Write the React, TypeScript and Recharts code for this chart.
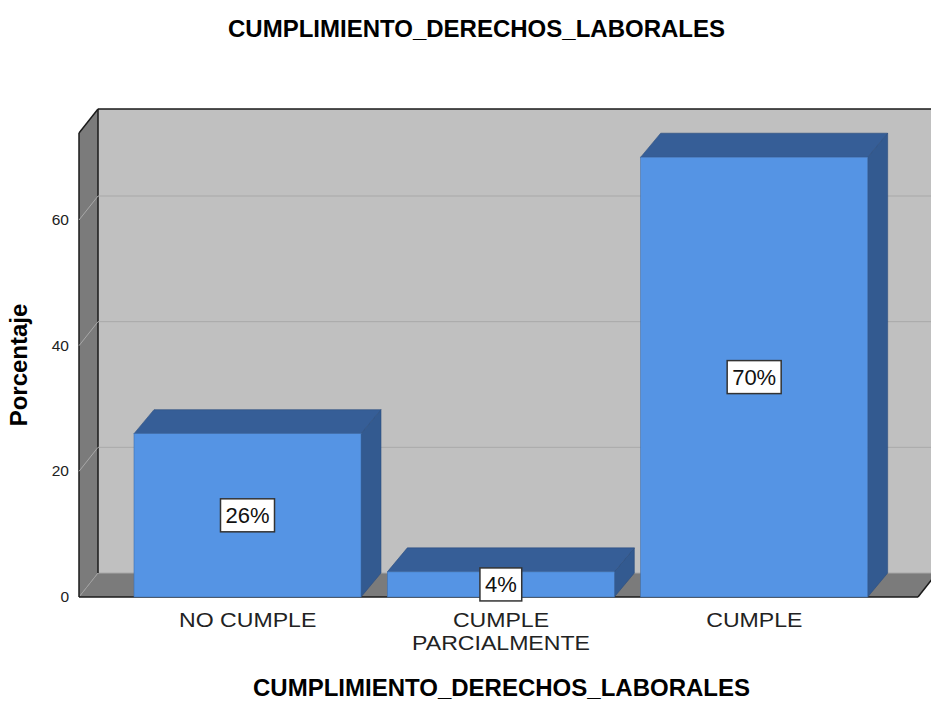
import React from 'react';
import { BarChart, Bar, XAxis, YAxis, ReferenceArea, LabelList } from 'recharts';

const categories = ['NO CUMPLE', 'CUMPLE PARCIALMENTE', 'CUMPLE'];
const percentages = [26, 4, 70];
const yTicks = [0, 20, 40, 60];
const gridValues = [20, 40, 60];
const chartTitle = 'CUMPLIMIENTO_DERECHOS_LABORALES';
const xTitle = 'CUMPLIMIENTO_DERECHOS_LABORALES';
const yTitle = 'Porcentaje';

const data = categories.map((c, i) => ({ name: c, value: percentages[i] }));

const W = 931;
const H = 702;
const PLOT_LEFT = 79;
const PLOT_RIGHT = 918;
const PLOT_TOP = 133;
const PLOT_BOTTOM = 597;
const DX = 19;
const DY = -24;
const BAR_DX = 20;
const BAR_DY = -24;
const Y_MAX = 73.85;
const FONT = '"Liberation Sans", Arial, Helvetica, sans-serif';

const WallShape = (p: any) => {
  const top = p.y;
  const bottom = p.y + p.height;
  const bx0 = PLOT_LEFT + DX;
  const bx1 = PLOT_RIGHT + DX;
  const by0 = top + DY;
  const by1 = bottom + DY;
  return (
    <g>
      <polygon points={`${bx0},${by0} ${bx1 + 20},${by0} ${bx1 + 20},${by1} ${bx0},${by1}`} fill="#C0C0C0" />
      <polygon points={`${PLOT_LEFT},${top} ${bx0},${by0} ${bx0},${by1} ${PLOT_LEFT},${bottom}`} fill="#7B7B7B" />
      <polygon points={`${PLOT_LEFT},${bottom} ${bx0},${by1} ${bx1},${by1} ${PLOT_RIGHT},${bottom}`} fill="#7B7B7B" />
      <line x1={bx0} y1={by1} x2={bx1 + 20} y2={by1} stroke="#A8A8A8" strokeWidth={1} />
      <line x1={PLOT_LEFT} y1={bottom} x2={bx0} y2={by1} stroke="#A0A0A0" strokeWidth={1} />
      <line x1={PLOT_LEFT} y1={top} x2={PLOT_LEFT} y2={bottom} stroke="#1A1A1A" strokeWidth={1.5} />
      <line x1={bx0} y1={by0} x2={bx0} y2={by1} stroke="#1A1A1A" strokeWidth={1.5} />
      <line x1={PLOT_LEFT} y1={top} x2={bx0} y2={by0} stroke="#1A1A1A" strokeWidth={1.5} />
      <line x1={bx0} y1={by0} x2={bx1 + 20} y2={by0} stroke="#1A1A1A" strokeWidth={1.5} />
      <line x1={PLOT_LEFT} y1={bottom} x2={PLOT_RIGHT} y2={bottom} stroke="#1A1A1A" strokeWidth={1.5} />
      <line x1={PLOT_RIGHT} y1={bottom} x2={bx1} y2={by1} stroke="#1A1A1A" strokeWidth={1.5} />
    </g>
  );
};

const GridShape = (p: any) => {
  const y = p.y;
  return (
    <g>
      <line x1={PLOT_LEFT + DX} y1={y + DY} x2={PLOT_RIGHT + DX + 20} y2={y + DY} stroke="#A9A9A9" strokeWidth={1} />
      <line x1={PLOT_LEFT} y1={y} x2={PLOT_LEFT + DX} y2={y + DY} stroke="#A8A8A8" strokeWidth={1} />
    </g>
  );
};

const Bar3D = (p: any) => {
  const { x, y, width: w, height: h } = p;
  if (w == null || h == null) return null;
  return (
    <g>
      <polygon
        points={`${x + w},${y} ${x + w + BAR_DX},${y + BAR_DY} ${x + w + BAR_DX},${y + h + BAR_DY} ${x + w},${y + h}`}
        fill="#335A90"
        stroke="#2C4E7E"
        strokeWidth={0.6}
      />
      <polygon
        points={`${x},${y} ${x + BAR_DX},${y + BAR_DY} ${x + w + BAR_DX},${y + BAR_DY} ${x + w},${y}`}
        fill="#365E97"
        stroke="#2C4E7E"
        strokeWidth={0.6}
      />
      <rect x={x} y={y} width={w} height={h} fill="#5594E4" stroke="#3F6FAE" strokeWidth={0.6} />
    </g>
  );
};

const ValueLabel = (p: any) => {
  const vb = p.viewBox && p.viewBox.width != null ? p.viewBox : p;
  const { x, y, width, height } = vb;
  if (x == null || p.value == null) return null;
  const txt = `${p.value}%`;
  const digits = String(p.value).length;
  const bw = digits * 12.2 + 19.6 + 10;
  const cx = x + width / 2;
  const cy = y + height / 2;
  return (
    <g>
      <rect x={cx - bw / 2} y={cy - 16.5} width={bw} height={33} fill="#FFFFFF" stroke="#333333" strokeWidth={1.5} />
      <text x={cx} y={cy + 8} textAnchor="middle" fontSize={22} fontFamily={FONT} fill="#111111">
        {txt}
      </text>
    </g>
  );
};

const YTick = (p: any) => (
  <text x={PLOT_LEFT - 10} y={p.y + 5} textAnchor="end" fontSize={15.5} fontFamily={FONT} fill="#222222">
    {p.payload.value}
  </text>
);

const wrapWords = (s: string, maxChars: number) => {
  const words = s.split(' ');
  const lines: string[] = [];
  let cur = '';
  words.forEach((w) => {
    const next = cur ? `${cur} ${w}` : w;
    if (next.length > maxChars && cur) {
      lines.push(cur);
      cur = w;
    } else {
      cur = next;
    }
  });
  if (cur) lines.push(cur);
  return lines;
};

const XTick = (p: any) => {
  const lines = wrapWords(String(p.payload.value), 12);
  const sx = 1.1;
  return (
    <g transform={`translate(${p.x}, 0) scale(${sx}, 1)`}>
      {lines.map((l, i) => (
        <text key={i} x={0} y={PLOT_BOTTOM + 30 + i * 23} textAnchor="middle" fontSize={21} fontFamily={FONT} fill="#222222">
          {l}
        </text>
      ))}
    </g>
  );
};

const XTitle = (p: any) => {
  const vb = p.viewBox || {};
  const cx = (vb.x ?? PLOT_LEFT) + (vb.width ?? PLOT_RIGHT - PLOT_LEFT) / 2 + 3;
  return (
    <text x={cx} y={696} textAnchor="middle" fontSize={24} fontWeight="bold" fontFamily={FONT} fill="#000000">
      {xTitle}
    </text>
  );
};

const YTitle = (p: any) => {
  const vb = p.viewBox || {};
  const cy = (vb.y ?? PLOT_TOP) + (vb.height ?? PLOT_BOTTOM - PLOT_TOP) / 2;
  return (
    <text x={27} y={cy} transform={`rotate(-90, 27, ${cy})`} textAnchor="middle" fontSize={24} fontWeight="bold" fontFamily={FONT} fill="#000000">
      {yTitle}
    </text>
  );
};

export default function App() {
  return (
    <div style={{ position: 'absolute', left: 0, top: 0, width: W, height: H, background: '#FFFFFF' }}>
      <div
        style={{
          position: 'absolute',
          left: 0,
          top: 15,
          width: W,
          paddingLeft: 22,
          boxSizing: 'border-box',
          textAlign: 'center',
          fontFamily: FONT,
          fontWeight: 'bold',
          fontSize: 24,
          lineHeight: '28px',
          color: '#000000',
        }}
      >
        {chartTitle}
      </div>
      <div style={{ position: 'absolute', left: 0, top: 0 }}>
        <BarChart
          width={W}
          height={H}
          data={data}
          margin={{ top: PLOT_TOP, right: W - PLOT_RIGHT, bottom: 0, left: 0 }}
          barSize={227}
        >
          <XAxis
            dataKey="name"
            height={H - PLOT_BOTTOM}
            axisLine={false}
            tickLine={false}
            interval={0}
            padding={{ left: 42, right: 37 }}
            tick={<XTick />}
            label={<XTitle />}
          />
          <YAxis
            width={PLOT_LEFT}
            domain={[0, Y_MAX]}
            ticks={yTicks}
            axisLine={false}
            tickLine={false}
            tick={<YTick />}
            label={<YTitle />}
          />
          <ReferenceArea y1={0} y2={Y_MAX} shape={<WallShape />} ifOverflow="visible" />
          {gridValues.map((v) => (
            <ReferenceArea key={v} y1={v} y2={v} shape={<GridShape />} ifOverflow="visible" />
          ))}
          <Bar dataKey="value" isAnimationActive={false} shape={<Bar3D />}>
            <LabelList dataKey="value" content={<ValueLabel />} />
          </Bar>
        </BarChart>
      </div>
    </div>
  );
}
